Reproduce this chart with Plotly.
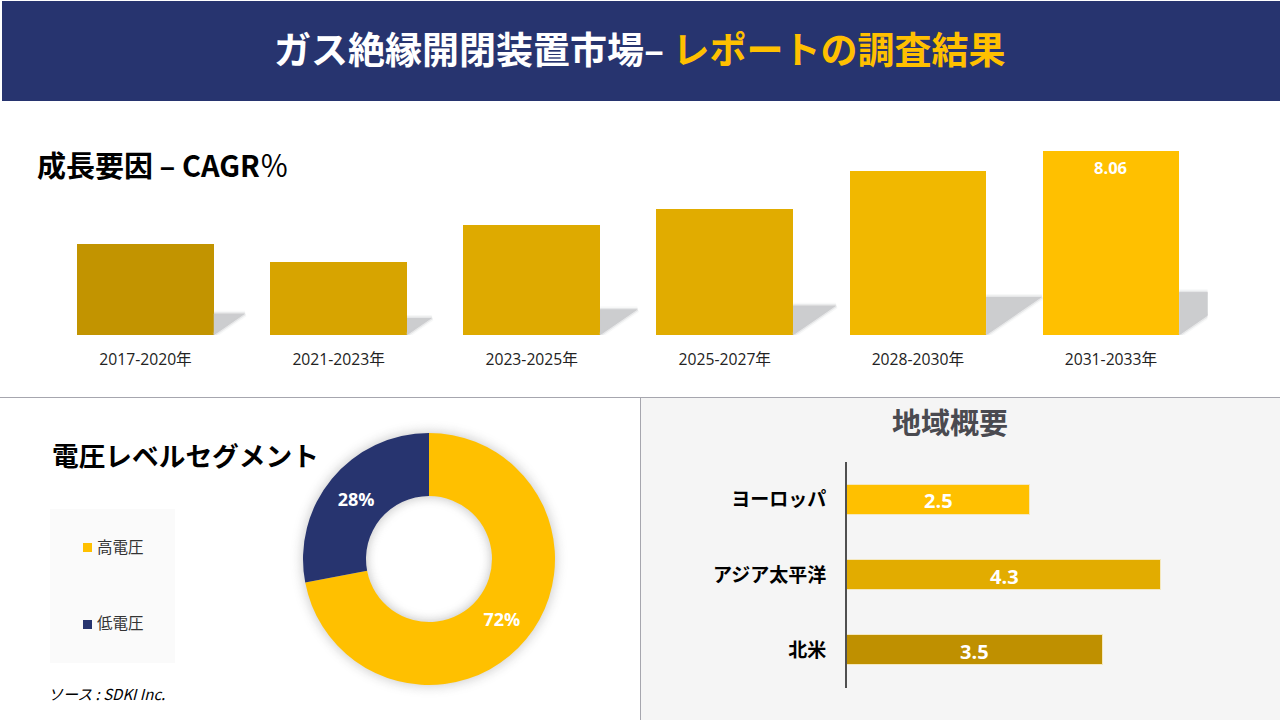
import plotly.graph_objects as go

W, H = 1280, 720
FONT = "Open Sans, Noto Sans CJK JP, sans-serif"
JP = "Noto Sans CJK JP, sans-serif"

# ---- data ----
periods = ["2017-2020年", "2021-2023年", "2023-2025年", "2025-2027年", "2028-2030年", "2031-2033年"]
cagr = [3.99, 3.2, 4.82, 5.52, 7.18, 8.06]
cagr_colors = ["#C29400", "#D7A400", "#DEAA00", "#E1AC00", "#F1B800", "#FFC000"]

voltage = ["高電圧", "低電圧"]
voltage_share = [72, 28]
voltage_colors = ["#FFC000", "#27346F"]

regions = ["ヨーロッパ", "アジア太平洋", "北米"]
region_values = [2.5, 4.3, 3.5]
region_colors = ["#FFC000", "#E2AC00", "#BF9000"]


def fx(p):
    return p / W


def fy(p):
    return 1 - p / H


def rect(x0, y0, x1, y1, fill, line=None):
    return dict(type="rect", xref="paper", yref="paper", layer="below",
                x0=fx(x0), x1=fx(x1), y0=fy(y1), y1=fy(y0),
                fillcolor=fill, line=dict(width=0) if line is None else line)


def circle(cx, cy, r, fill):
    return dict(type="circle", xref="paper", yref="paper", layer="below",
                x0=fx(cx - r), x1=fx(cx + r), y0=fy(cy + r), y1=fy(cy - r),
                fillcolor=fill, line=dict(width=0))


def text(x, y, s, size, color="#000000", bold=False, anchor="left", family=JP, italic=False):
    if bold:
        s = f"<b>{s}</b>"
    if italic:
        s = f"<i>{s}</i>"
    return dict(xref="paper", yref="paper", x=fx(x), y=fy(y), text=s, showarrow=False,
                xanchor=anchor, yanchor="middle", font=dict(size=size, color=color, family=family))


fig = go.Figure()

# shadows of the CAGR bars, derived from the values
BAR_W = 0.708
for i, v in enumerate(cagr):
    edge = i + BAR_W / 2
    xs = [edge, edge + 0.04 * v, edge]
    ys = [0, 0.232 * v, 0.232 * v]
    for lw, col in ((6, "rgba(204,205,207,0.15)"), (3, "rgba(204,205,207,0.4)")):
        fig.add_trace(go.Scatter(x=xs, y=ys, mode="lines", fill="toself", fillcolor="#CCCDCF",
                                 line=dict(color=col, width=lw), hoverinfo="skip", showlegend=False,
                                 xaxis="x", yaxis="y"))

fig.add_trace(go.Bar(x=list(range(len(periods))), y=cagr, width=BAR_W, marker=dict(color=cagr_colors, line=dict(width=0)),
                     showlegend=False, xaxis="x", yaxis="y"))

fig.add_trace(go.Bar(x=region_values, y=regions, orientation="h", width=0.395,
                     marker=dict(color=region_colors, line=dict(color="#F5E8BE", width=1)),
                     showlegend=False, xaxis="x2", yaxis="y2"))

fig.add_trace(go.Pie(labels=voltage, values=voltage_share, hole=0.5, sort=False, direction="clockwise", rotation=0,
                     marker=dict(colors=voltage_colors, line=dict(width=0)), textinfo="percent",
                     textposition="inside", insidetextorientation="horizontal",
                     textfont=dict(size=18, color="#FFFFFF", family=FONT, weight="bold"),
                     domain=dict(x=[fx(303), fx(555)], y=[fy(685), fy(433)]), showlegend=False))

shapes = [
    rect(2, 1, W, 101, "#27346F"),
    rect(640, 398, W, H, "#F5F5F5"),
    rect(50, 509, 175, 663, "#FAFAFA"),
    rect(83, 543, 92, 552, voltage_colors[0]),
    rect(83, 620, 92, 629, voltage_colors[1]),
    dict(type="line", xref="paper", yref="paper", layer="below", x0=0, x1=1, y0=fy(397.5), y1=fy(397.5),
         line=dict(color="#A6A6AE", width=1)),
    dict(type="line", xref="paper", yref="paper", layer="below", x0=fx(640.5), x1=fx(640.5), y0=fy(398), y1=0,
         line=dict(color="#A6A6AE", width=1)),
]
# soft glow of the ring
CX, CY, R_OUT, R_IN = 429, 559, 126, 63
for k in range(14, -1, -1):
    g = int(255 - (14 - k) ** 2 * 32 / 196)
    shapes.append(circle(CX, CY, R_OUT + k, f"rgb({g},{g},{g})"))
for k in range(0, 13):
    g = int(255 - (12 - k) ** 2 * 32 / 144)
    shapes.append(circle(CX, CY, R_IN - k, f"rgb({g},{g},{g})"))

annotations = [
    text(272, 48, "ガス絶縁開閉装置市場– <span style='color:#FFC000'>レポートの調査結果</span>", 37, "#FFFFFF", True),
    text(35, 164, "<b>成長要因 – CAGR</b>％", 29, "#000000"),
    text(50, 454, "電圧レベルセグメント", 26.7, "#000000", True),
    text(950, 421, "地域概要", 29, "#4A4A50", True, anchor="center"),
    text(95, 546, voltage[0], 15.5, "#333333"),
    text(95, 622, voltage[1], 15.5, "#333333"),
    text(46, 693, "ソース : SDKI Inc.", 15, "#000000", italic=True),
    # value labels, placed from the data
    dict(xref="x", yref="y", x=5, y=cagr[5], yshift=-17, text="<b>8.06</b>", showarrow=False,
         xanchor="center", yanchor="middle", font=dict(size=16.5, color="#FFFFFF", family=FONT)),
]
for r, v in zip(regions, region_values):
    annotations.append(dict(xref="x2", yref="y2", x=v / 2, y=r, yshift=-1, text=f"<b>{v}</b>", showarrow=False,
                            xanchor="center", yanchor="middle", font=dict(size=20, color="#FFFFFF", family=FONT)))

fig.update_layout(
    width=W, height=H, margin=dict(l=0, r=0, t=0, b=0), autosize=False,
    paper_bgcolor="#FFFFFF", plot_bgcolor="rgba(0,0,0,0)",
    font=dict(family=FONT), showlegend=False, bargap=0,
    shapes=shapes, annotations=annotations,
    xaxis=dict(domain=[fx(49), fx(1207.5)], range=[-0.5, 5.5], tickmode="array",
               tickvals=list(range(len(periods))), ticktext=periods, showgrid=False, zeroline=False, showline=False,
               ticks="outside", ticklen=10, tickcolor="rgba(0,0,0,0)", tickfont=dict(size=15.7, color="#222222", family=FONT)),
    yaxis=dict(domain=[fy(335), fy(140)], range=[0, 195 / 22.83], visible=False),
    xaxis2=dict(domain=[fx(847), fx(1250)], range=[0, 403 / 73.1], visible=False, anchor="y2"),
    yaxis2=dict(domain=[fy(688), fy(462)], anchor="x2", autorange="reversed", showgrid=False, zeroline=False,
                showline=True, linecolor="#505050", linewidth=2, ticks="outside", ticklen=15,
                tickcolor="rgba(0,0,0,0)", tickfont=dict(size=19, color="#000000", family=JP, weight="bold")),
)

fig.write_html("out.html", config=dict(displayModeBar=False), post_script="document.body.style.margin='0';")
